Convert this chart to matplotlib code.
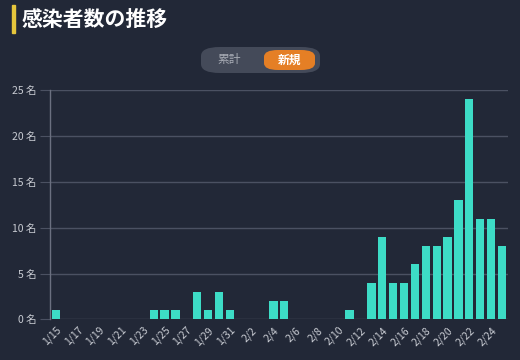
import matplotlib
matplotlib.use("Agg")
import matplotlib.pyplot as plt
from matplotlib.patches import FancyBboxPatch, Rectangle
import datetime as dt

plt.rcParams['font.family'] = ['Noto Sans CJK JP', 'DejaVu Sans']

# data: daily new cases from 1/15 to 2/25
start = dt.date(2020, 1, 15)
n_days = 42
dates = [start + dt.timedelta(days=i) for i in range(n_days)]
date_labels = [f"{d.month}/{d.day}" for d in dates]
cases_map = {
    "1/15": 1, "1/24": 1, "1/25": 1, "1/26": 1, "1/28": 3, "1/29": 1,
    "1/30": 3, "1/31": 1, "2/4": 2, "2/5": 2, "2/11": 1, "2/13": 4,
    "2/14": 9, "2/15": 4, "2/16": 4, "2/17": 6, "2/18": 8, "2/19": 8,
    "2/20": 9, "2/21": 13, "2/22": 24, "2/23": 11, "2/24": 11, "2/25": 8,
}
values = [cases_map.get(lbl, 0) for lbl in date_labels]
y_ticks = [0, 5, 10, 15, 20, 25]
y_tick_labels = [f"{v} 名" for v in y_ticks]
title = "感染者数の推移"
toggle_labels = ["累計", "新規"]

BG = "#222837"
BAR = "#3ddcc6"
GRID = "#4b5162"
TXT = "#c9ccd3"

W, H = 520, 360
fig = plt.figure(figsize=(W / 100, H / 100), dpi=100, facecolor=BG)

# title
fig.patches.append(Rectangle((12 / W, 1 - 33 / H), 3 / W, 28 / H,
                             transform=fig.transFigure, color="#e6c63c", zorder=5))
fig.text(22 / W, 1 - 19 / H, title, color="white", fontsize=15, fontweight="bold",
         va="center", ha="left")

# toggle pill
fig.patches.append(FancyBboxPatch((201 / W, 1 - 73 / H), 119 / W, 26 / H,
                                  boxstyle="round,pad=0,rounding_size=0.036",
                                  transform=fig.transFigure, facecolor="#444a59",
                                  edgecolor="none", mutation_aspect=H / W * 1.0))
fig.patches.append(FancyBboxPatch((264 / W, 1 - 70 / H), 51 / W, 20 / H,
                                  boxstyle="round,pad=0,rounding_size=0.027",
                                  transform=fig.transFigure, facecolor="#e57f25",
                                  edgecolor="none", mutation_aspect=H / W * 1.0))
fig.text(229 / W, 1 - 60 / H, toggle_labels[0], color="#a9adb6", fontsize=8.5,
         ha="center", va="center")
fig.text(289.5 / W, 1 - 60 / H, toggle_labels[1], color="white", fontsize=8.5,
         ha="center", va="center", fontweight="bold")

# axes
ax = fig.add_axes([50 / W, 40.7 / H, 458 / W, 229 / H])
ax.set_facecolor(BG)
x = list(range(n_days))
ax.bar(x, values, width=0.76, color=BAR, zorder=3)
ax.set_xlim(-0.52, n_days - 0.45)
ax.set_ylim(0, 25)

ax.set_yticks(y_ticks)
ax.set_yticklabels(y_tick_labels, color=TXT, fontsize=7.5)
ax.yaxis.grid(True, color=GRID, linewidth=1, zorder=0)
ax.tick_params(axis='y', length=7, color=GRID, pad=3)

ax.set_xticks(x[::2])
ax.set_xticklabels(date_labels[::2], rotation=45, ha="right", va="top",
                   rotation_mode="anchor", color=TXT, fontsize=7.5)
ax.tick_params(axis='x', length=0, pad=4)

for s in ["top", "right", "bottom"]:
    ax.spines[s].set_visible(False)
ax.spines["left"].set_color("#6b7080")
ax.spines["left"].set_linewidth(1)

fig.savefig("out.png", dpi=100, facecolor=BG)
